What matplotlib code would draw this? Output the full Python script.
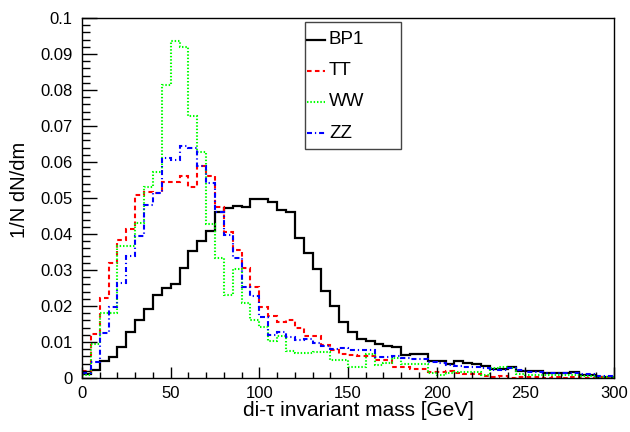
import matplotlib
matplotlib.use("Agg")
import matplotlib.pyplot as plt
from matplotlib.ticker import FixedLocator, MultipleLocator, FixedFormatter
from matplotlib.patches import Rectangle
from matplotlib.lines import Line2D
import numpy as np

plt.rcParams['font.family'] = ['Liberation Sans', 'DejaVu Sans']

# bin edges: 60 bins of 5 GeV from 0 to 300
edges = np.arange(0, 301, 5)

bp1 = [0.0011, 0.0022, 0.0046, 0.0059, 0.0085, 0.0129, 0.0160, 0.0192, 0.0230, 0.0250,
       0.0262, 0.0305, 0.0354, 0.0381, 0.0409, 0.0460, 0.0471, 0.0479, 0.0476, 0.0496,
       0.0498, 0.0490, 0.0466, 0.0460, 0.0390, 0.0348, 0.0303, 0.0243, 0.0199, 0.0155,
       0.0127, 0.0107, 0.0104, 0.0095, 0.0090, 0.0086, 0.0063, 0.0066, 0.0068, 0.0048,
       0.0046, 0.0040, 0.0047, 0.0042, 0.0038, 0.0034, 0.0025, 0.0025, 0.0031, 0.0020,
       0.0020, 0.0019, 0.0014, 0.0014, 0.0015, 0.0016, 0.0008, 0.0009, 0.0003, 0.0003]

tt = [0.0020, 0.0122, 0.0221, 0.0320, 0.0383, 0.0413, 0.0508, 0.0518, 0.0515, 0.0545,
      0.0545, 0.0561, 0.0530, 0.0589, 0.0560, 0.0476, 0.0406, 0.0356, 0.0305, 0.0252,
      0.0197, 0.0171, 0.0155, 0.0160, 0.0140, 0.0117, 0.0117, 0.0091, 0.0077, 0.0066,
      0.0064, 0.0062, 0.0062, 0.0050, 0.0049, 0.0031, 0.0031, 0.0025, 0.0024, 0.0017,
      0.0018, 0.0020, 0.0015, 0.0011, 0.0012, 0.0006, 0.0003, 0.0005, 0.0001, 0.0002,
      0.0002, 0.0002, 0.0001, 0.0002, 0.0001, 0.0002, 0.0001, 0.0001, 0.0002, 0.0001]

ww = [0.0009, 0.0095, 0.0181, 0.0181, 0.0366, 0.0366, 0.0431, 0.0530, 0.0573, 0.0815,
      0.0937, 0.0920, 0.0729, 0.0627, 0.0428, 0.0334, 0.0231, 0.0302, 0.0209, 0.0160,
      0.0143, 0.0104, 0.0117, 0.0076, 0.0069, 0.0069, 0.0073, 0.0073, 0.0050, 0.0050,
      0.0031, 0.0031, 0.0067, 0.0036, 0.0041, 0.0055, 0.0039, 0.0039, 0.0039, 0.0015,
      0.0008, 0.0015, 0.0018, 0.0016, 0.0018, 0.0008, 0.0027, 0.0031, 0.0027, 0.0011,
      0.0008, 0.0008, 0.0008, 0.0008, 0.0008, 0.0008, 0.0006, 0.0006, 0.0002, 0.0002]

zz = [0.0015, 0.0045, 0.0125, 0.0196, 0.0265, 0.0338, 0.0395, 0.0480, 0.0515, 0.0612,
      0.0605, 0.0645, 0.0640, 0.0590, 0.0543, 0.0460, 0.0396, 0.0332, 0.0254, 0.0228,
      0.0170, 0.0119, 0.0129, 0.0115, 0.0106, 0.0107, 0.0096, 0.0089, 0.0080, 0.0082,
      0.0077, 0.0077, 0.0077, 0.0059, 0.0059, 0.0061, 0.0055, 0.0052, 0.0052, 0.0045,
      0.0041, 0.0037, 0.0034, 0.0030, 0.0031, 0.0027, 0.0022, 0.0022, 0.0027, 0.0022,
      0.0018, 0.0018, 0.0013, 0.0015, 0.0013, 0.0013, 0.0011, 0.0011, 0.0006, 0.0006]

series_names = ['BP1', 'TT', 'WW', 'ZZ']
y_ticks = [0, 0.01, 0.02, 0.03, 0.04, 0.05, 0.06, 0.07, 0.08, 0.09, 0.1]
y_tick_labels = ['0', '0.01', '0.02', '0.03', '0.04', '0.05', '0.06', '0.07', '0.08', '0.09', '0.1']
x_ticks = [0, 50, 100, 150, 200, 250, 300]
x_tick_labels = ['0', '50', '100', '150', '200', '250', '300']

W, H = 630, 432
fig = plt.figure(figsize=(W/100, H/100), dpi=100)
ax = fig.add_axes([82/W, 1 - 378/H, (614-82)/W, (378-18)/H])

styles = [
    dict(color='black', lw=1.6, linestyle='-'),
    dict(color='#ff0000', lw=1.5, linestyle=(0, (2.2, 1.6))),
    dict(color='#00ff00', lw=1.5, linestyle=(0, (0.7, 0.9))),
    dict(color='#0000ff', lw=1.5, linestyle=(0, (2.4, 1.4, 0.6, 1.4))),
]
for vals, st, name in zip([bp1, tt, ww, zz], styles, series_names):
    ax.stairs(vals, edges, baseline=None, label=name, **st)

ax.set_xlim(0, 300)
ax.set_ylim(0, 0.1)

ax.xaxis.set_major_locator(FixedLocator(x_ticks))
ax.xaxis.set_major_formatter(FixedFormatter(x_tick_labels))
ax.xaxis.set_minor_locator(MultipleLocator(10))
ax.yaxis.set_major_locator(FixedLocator(y_ticks))
ax.yaxis.set_major_formatter(FixedFormatter(y_tick_labels))
ax.yaxis.set_minor_locator(MultipleLocator(0.002))

ax.tick_params(axis='both', which='both', direction='in', top=False, right=False,
               labelsize=12, width=1, color='black')
ax.tick_params(axis='y', which='major', length=11, pad=7)
ax.tick_params(axis='y', which='minor', length=5.5)
ax.tick_params(axis='x', which='major', length=8, pad=6)
ax.tick_params(axis='x', which='minor', length=4)
for sp in ax.spines.values():
    sp.set_linewidth(1.0)
    sp.set_color('black')

fig.text(358/W, 1 - 410/H, 'di-\u03c4 invariant mass [GeV]', ha='center', va='center', fontsize=15)
fig.text(20/W, 1 - 190/H, '1/N dN/dm', ha='center', va='center', rotation=90, fontsize=14.5)

# ROOT-style legend box drawn in figure pixel coordinates
bx0, by0, bx1, by1 = 304.7, 21.7, 401, 149
fig.add_artist(Rectangle((bx0/W, 1 - by1/H), (bx1-bx0)/W, (by1-by0)/H,
                         transform=fig.transFigure, facecolor='white',
                         edgecolor='#444444', lw=1.0, zorder=5))
entry_y = [39.5, 70.7, 101.5, 133]
for yy, st, name in zip(entry_y, styles, series_names):
    fig.add_artist(Line2D([307/W, 325/W], [1 - yy/H, 1 - yy/H], transform=fig.transFigure,
                          zorder=6, **st))
    fig.text(329/W, 1 - yy/H, name, ha='left', va='center', fontsize=13.5, zorder=6)

fig.savefig('out.png', dpi=100)
